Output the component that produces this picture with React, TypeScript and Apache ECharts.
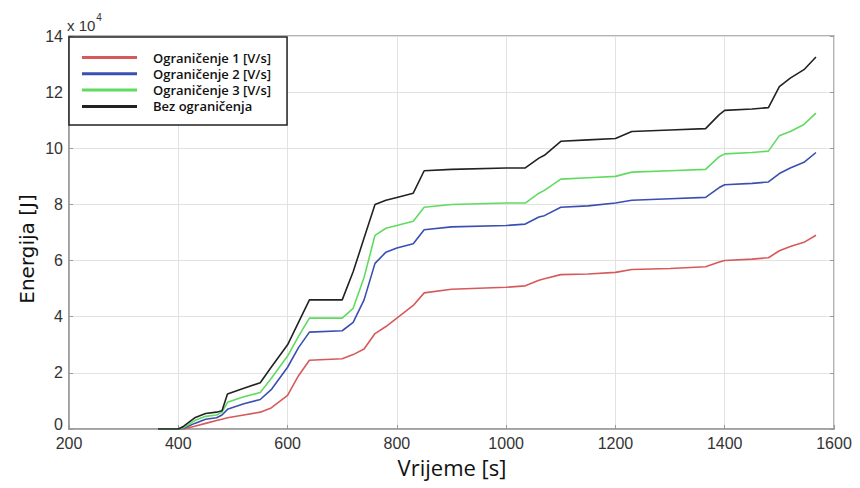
import React, { useEffect, useRef } from "react";
import * as echarts from "echarts";

// time [s]
const times = [363, 380, 400, 410, 430, 450, 470, 480, 490, 520, 550, 570, 600, 620, 640, 700, 720, 740, 760, 780, 800, 830, 850, 900, 1000, 1035, 1060, 1070, 1100, 1150, 1200, 1230, 1300, 1365, 1390, 1400, 1450, 1480, 1500, 1520, 1545, 1567];

// energy in units of 10^4 J
const ogr1 = [0, 0, 0, 0, 0.1, 0.2, 0.3, 0.35, 0.4, 0.5, 0.6, 0.75, 1.2, 1.9, 2.45, 2.5, 2.65, 2.85, 3.4, 3.65, 3.95, 4.4, 4.85, 4.98, 5.05, 5.1, 5.3, 5.35, 5.5, 5.52, 5.58, 5.68, 5.72, 5.78, 5.95, 6.0, 6.05, 6.1, 6.35, 6.5, 6.65, 6.9];
const ogr2 = [0, 0, 0, 0.03, 0.2, 0.35, 0.4, 0.5, 0.7, 0.9, 1.05, 1.4, 2.2, 2.9, 3.45, 3.5, 3.8, 4.6, 5.9, 6.3, 6.45, 6.6, 7.1, 7.2, 7.25, 7.3, 7.55, 7.6, 7.9, 7.95, 8.05, 8.15, 8.2, 8.25, 8.6, 8.7, 8.75, 8.8, 9.1, 9.3, 9.5, 9.85];
const ogr3 = [0, 0, 0, 0.05, 0.3, 0.45, 0.5, 0.6, 0.95, 1.15, 1.3, 1.8, 2.6, 3.3, 3.95, 3.95, 4.3, 5.4, 6.9, 7.15, 7.25, 7.4, 7.9, 8.0, 8.05, 8.05, 8.4, 8.5, 8.9, 8.95, 9.0, 9.15, 9.2, 9.25, 9.7, 9.8, 9.85, 9.9, 10.45, 10.6, 10.85, 11.25];
const bez = [0, 0, 0, 0.1, 0.4, 0.55, 0.6, 0.65, 1.25, 1.45, 1.65, 2.2, 3.0, 3.8, 4.6, 4.6, 5.6, 6.8, 8.0, 8.15, 8.25, 8.4, 9.2, 9.25, 9.3, 9.3, 9.65, 9.75, 10.25, 10.3, 10.35, 10.6, 10.65, 10.7, 11.2, 11.35, 11.4, 11.45, 12.2, 12.5, 12.8, 13.25];

const seriesNames = ["Ograničenje 1 [V/s]", "Ograničenje 2 [V/s]", "Ograničenje 3 [V/s]", "Bez ograničenja"];
const seriesColors = ["#d65a5a", "#3a4fb0", "#5fdc5f", "#222222"];

export default function App() {
  const ref = useRef<HTMLDivElement>(null);
  useEffect(() => {
    if (!ref.current) return;
    const chart = echarts.init(ref.current, undefined, { renderer: "svg" });
    const all = [ogr1, ogr2, ogr3, bez];
    const axisLabelStyle = { color: "#333", fontSize: 16, fontFamily: "Liberation Sans, Arial, sans-serif" };
    chart.setOption({
      animation: false,
      backgroundColor: "#fff",
      grid: { left: 69, right: 26, top: 36, bottom: 59, show: true, borderColor: "#9a9a9a", borderWidth: 1.5 },
      legend: {
        orient: "vertical",
        left: 69,
        top: 37,
        data: seriesNames,
        icon: "rect",
        itemWidth: 55,
        itemHeight: 3,
        itemGap: 3.3,
        backgroundColor: "#fff",
        borderColor: "#222",
        borderWidth: 1.5,
        borderRadius: 0,
        padding: [14, 16, 12, 13],
        textStyle: { fontSize: 13, fontWeight: 600, lineHeight: 12, color: "#111", fontFamily: "Open Sans, sans-serif", padding: [0, 0, 0, 11] },
      },
      xAxis: {
        type: "value",
        min: 200,
        max: 1600,
        interval: 200,
        axisLine: { show: true, lineStyle: { color: "#9a9a9a", width: 1.5 } },
        axisTick: { show: true, inside: true, length: 4, lineStyle: { color: "#9a9a9a" } },
        axisLabel: { ...axisLabelStyle, margin: 6, formatter: (v: number) => String(v) },
        splitLine: { show: true, lineStyle: { color: "#e2e2e2", width: 1 } },
      },
      yAxis: [
        {
          type: "value",
          min: 0,
          max: 14,
          interval: 2,
          axisLine: { show: true, lineStyle: { color: "#9a9a9a", width: 1.5 } },
          axisTick: { show: true, inside: true, length: 4, lineStyle: { color: "#9a9a9a" } },
          axisLabel: {
            ...axisLabelStyle,
            margin: 6,
            formatter: (v: number) => (v === 0 ? "{z|0}" : String(v)),
            rich: { z: { color: "#333", fontSize: 16, fontFamily: "Liberation Sans, Arial, sans-serif", padding: [0, 0, 10, 0] } },
          },
          splitLine: { show: true, lineStyle: { color: "#e2e2e2", width: 1 } },
        },
        {
          type: "value",
          min: 0,
          max: 14,
          interval: 2,
          position: "right",
          axisLine: { show: false },
          axisTick: { show: true, inside: true, length: 4, lineStyle: { color: "#9a9a9a" } },
          axisLabel: { show: false },
          splitLine: { show: false },
        },
      ],
      series: seriesNames.map((name, k) => ({
        name,
        type: "line",
        yAxisIndex: 0,
        data: times.map((t, i) => [t, all[k][i]]),
        showSymbol: false,
        symbol: "none",
        z: 2 + k,
        lineStyle: { color: seriesColors[k], width: 1.6 },
        itemStyle: { color: seriesColors[k] },
      })),
      graphic: [
        {
          type: "text",
          left: 67,
          top: 12,
          style: {
            text: "{a|x 10}{b|4}",
            rich: {
              a: { fontSize: 15, fill: "#333", fontFamily: "Liberation Sans, Arial, sans-serif", padding: [6, 0, 0, 0] },
              b: { fontSize: 10, fill: "#333", fontFamily: "Liberation Sans, Arial, sans-serif", verticalAlign: "top", padding: [0, 0, 0, 1] },
            },
          },
        },
        {
          type: "text",
          x: 452,
          y: 467,
          style: {
            text: "Vrijeme [s]",
            fontSize: 22,
            fill: "#111",
            fontFamily: "Open Sans, sans-serif",
            align: "center",
            verticalAlign: "middle",
          },
        },
        {
          type: "text",
          x: 27,
          y: 249,
          rotation: Math.PI / 2,
          style: {
            text: "Energija [J]",
            fontSize: 20,
            fill: "#111",
            fontFamily: "DejaVu Sans, sans-serif",
            align: "center",
            verticalAlign: "middle",
          },
        },
      ],
    });
    return () => chart.dispose();
  }, []);
  return <div ref={ref} style={{ width: 860, height: 488, position: "absolute", left: 0, top: 0 }} />;
}
